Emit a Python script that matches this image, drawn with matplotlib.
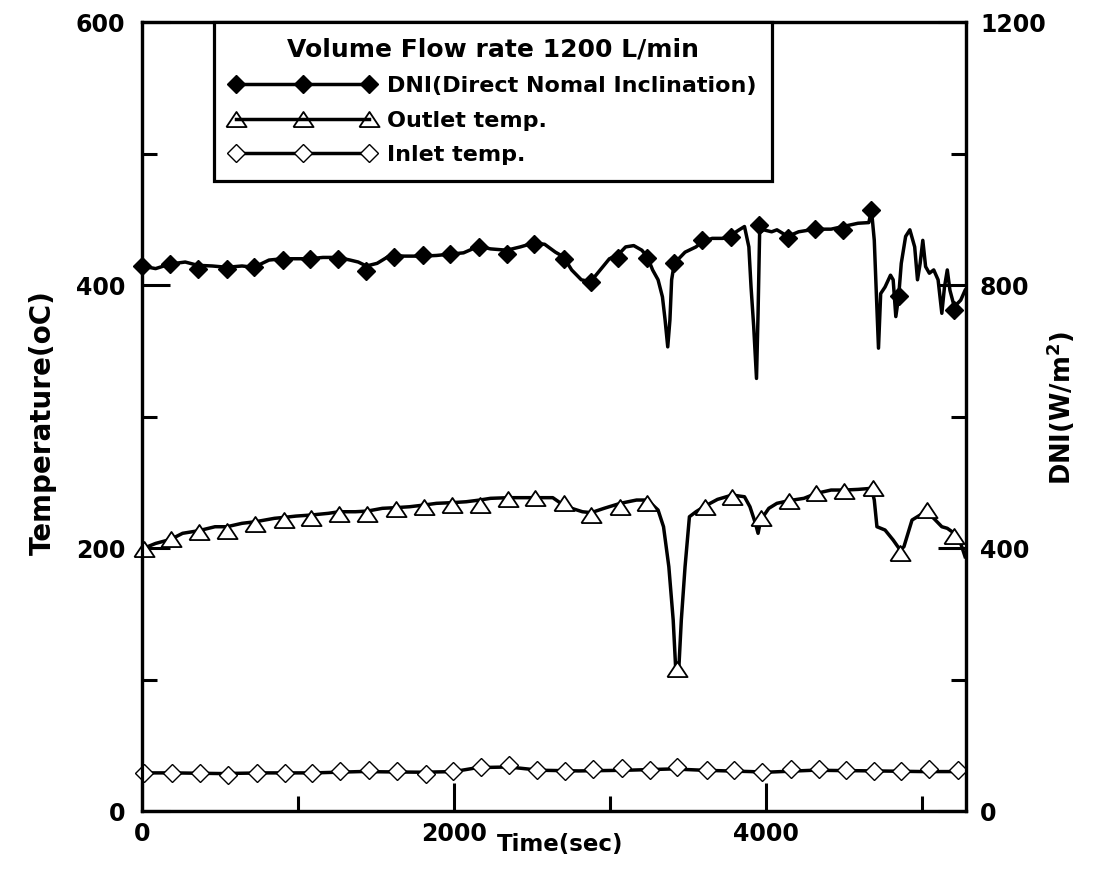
import matplotlib
matplotlib.use('Agg')
import matplotlib.pyplot as plt
from matplotlib.lines import Line2D
from matplotlib.ticker import MultipleLocator

plt.rcParams['font.family'] = ['DejaVu Sans']
plt.rcParams['font.weight'] = 'bold'
plt.rcParams['mathtext.default'] = 'bf'

# =========================
# DATA
# =========================
# DNI, right axis (W/m2) - trace
dni_t = [0, 87, 180, 277, 357, 450, 544, 641, 717, 814, 901, 987, 1074, 1160, 1257,
         1334, 1386, 1438, 1507, 1576, 1614, 1680, 1801, 1888, 1974, 2061, 2158, 2234,
         2338, 2425, 2511, 2581, 2650, 2702, 2754, 2816, 2875, 2927, 2996, 3048, 3100,
         3152, 3204, 3239, 3273, 3308, 3336, 3353, 3370, 3384, 3395, 3412, 3481, 3551,
         3592, 3655, 3724, 3776, 3828, 3862, 3890, 3904, 3921, 3939, 3949, 3959, 3984,
         4036, 4070, 4139, 4209, 4313, 4417, 4493, 4590, 4659, 4676, 4694, 4708, 4721,
         4735, 4763, 4798, 4815, 4832, 4850, 4867, 4895, 4922, 4953, 4971, 4988, 5005,
         5023, 5047, 5075, 5103, 5127, 5144, 5162, 5179, 5207, 5248, 5276]
dni_v = [829, 825, 832, 835, 830, 829, 827, 829, 827, 838, 840, 840, 840, 842, 842,
         838, 835, 829, 833, 843, 845, 844, 844, 845, 847, 849, 859, 855,
         853, 858, 864, 862, 850, 843, 823, 808, 805, 820, 840, 845, 858,
         860, 853, 843, 823, 808, 782, 747, 706, 747, 808, 833, 850, 858,
         866, 871, 871, 876, 884, 889, 858, 797, 737, 658, 757, 879, 884,
         881, 884, 874, 881, 885, 885, 889, 894, 895, 914, 868, 782, 704,
         787, 797, 815, 808, 752, 782, 833, 874, 884, 858, 808, 833, 868,
         828, 818, 823, 808, 757, 797, 823, 792, 767, 777, 792]
# DNI markers
dni_mt = [0, 180, 357, 544, 717, 901, 1074, 1257, 1438, 1614, 1801, 1974, 2158, 2338,
          2511, 2702, 2875, 3048, 3239, 3412, 3592, 3776, 3956, 4139, 4313, 4493, 4676,
          4850, 5207]
dni_mv = [829, 832, 824, 824, 827, 838, 839, 839, 822, 843, 846, 847, 858, 847,
          862, 839, 805, 841, 841, 833, 868, 873, 891, 871, 886, 883, 914,
          783, 762]

# Outlet temperature, left axis (oC) - trace
out_t = [10, 87, 184, 260, 364, 468, 544, 641, 727, 849, 911, 987, 1084, 1195, 1264,
         1368, 1444, 1541, 1625, 1715, 1808, 1888, 1985, 2078, 2165, 2234, 2349, 2442,
         2522, 2633, 2685, 2754, 2823, 2879, 2962, 3066, 3170, 3239, 3308, 3343, 3377,
         3405, 3422, 3440, 3457, 3481, 3509, 3551, 3609, 3689, 3783, 3862, 3897, 3932,
         3949, 3966, 4018, 4070, 4146, 4243, 4323, 4417, 4503, 4590, 4676, 4694, 4711,
         4763, 4815, 4860, 4884, 4936, 4988, 5033, 5075, 5127, 5162, 5207, 5248, 5276]
out_v = [199.8, 203.5, 206.6, 211.2, 213.2, 216.2, 216.2, 218.8, 220, 222.6, 223.3,
         224.3, 225.1, 226.4, 227.6, 227.6, 228.1, 230.2, 230.7, 231.4, 232.7, 234,
         234.5, 235.2, 236.5, 237.8, 238.3, 238.3, 238.3, 238.3, 234, 230.2, 227.6,
         226.9, 230.2, 234, 236.5, 236.5, 228.9, 216.2, 185.8, 145.2, 106, 106, 145.2,
         185.8, 223.8, 227.6, 231.9, 237, 240.3, 239, 231.4, 218.8, 211.2, 221.3, 230.2,
         234, 236, 237.8, 241.6, 244.1, 244.1, 244.6, 245.4, 236.5, 216.2, 213.7, 206.1,
         198.5, 201, 221.3, 225.1, 226.4, 222.6, 216.2, 215, 211.2, 203.5, 193.4]
out_mt = [10, 184, 364, 544, 727, 911, 1084, 1264, 1444, 1625, 1808, 1985, 2165, 2349,
          2522, 2705, 2879, 3066, 3239, 3429, 3609, 3783, 3966, 4146, 4323, 4503, 4683,
          4860, 5033, 5207]
out_mv = [199, 207, 212, 213, 218, 221, 223, 226, 226, 230, 231, 233, 233, 237,
          238, 234, 225, 231, 234, 108, 231, 239, 223, 236, 242, 243, 246,
          196, 229, 209]

# Inlet temperature, left axis (oC)
in_t = [0, 200, 500, 800, 1100, 1400, 1800, 2000, 2150, 2350, 2550, 2800, 3100, 3400,
        3600, 3900, 4000, 4300, 4700, 5000, 5280]
in_v = [29, 29, 28.5, 29, 29, 30, 29.5, 30, 33, 33.5, 31, 30.5, 31, 32,
        31, 30, 29.5, 31, 30.5, 30, 30]
in_mt = [10, 191, 371, 554, 738, 918, 1091, 1271, 1455, 1635, 1819, 1992, 2175, 2355,
         2529, 2712, 2892, 3076, 3256, 3429, 3620, 3793, 3973, 4157, 4337, 4514, 4694,
         4867, 5047, 5231]
in_mv = [29, 28.6, 28.6, 27.4, 28.6, 28.6, 28.6, 30.7, 31.2, 30.7, 28.1, 30.7, 33.7, 35,
         31.2, 30.7, 31.7, 32.4, 31.2, 33.7, 31.2, 31.2, 29.9, 31.7, 32, 31.2, 30.7,
         30.7, 31.7, 31.2]

# wide open triangle like the original's
tri = [(-1, -0.75), (1, -0.75), (0, 0.75), (-1, -0.75)]

# =========================
# PLOT
# =========================
fig = plt.figure(figsize=(10.95, 8.93), dpi=100)
ax = fig.add_axes([0.1297, 0.0918, 0.7525, 0.8835])
ax2 = ax.twinx()

lw = 2.5
ax.plot(out_t, out_v, color='k', lw=lw)
ax.plot(out_mt, out_mv, ls='none', marker=tri, ms=14.5, mfc='white', mec='k', mew=1.3,
        clip_on=False, zorder=3)
ax.plot(in_t, in_v, color='k', lw=lw)
ax.plot(in_mt, in_mv, ls='none', marker='D', ms=9.5, mfc='white', mec='k', mew=1.0,
        clip_on=False, zorder=3)

ax2.plot(dni_t, dni_v, color='k', lw=lw)
ax2.plot(dni_mt, dni_mv, ls='none', marker='D', ms=9.5, mfc='k', mec='k',
         clip_on=False, zorder=3)

ax.set_xlim(0, 5282)
ax.set_ylim(0, 600)
ax2.set_ylim(0, 1200)

ax.xaxis.set_major_locator(MultipleLocator(2000))
ax.xaxis.set_minor_locator(MultipleLocator(1000))
ax.yaxis.set_major_locator(MultipleLocator(200))
ax.yaxis.set_minor_locator(MultipleLocator(100))
ax2.yaxis.set_major_locator(MultipleLocator(400))
ax2.yaxis.set_minor_locator(MultipleLocator(200))

for a in (ax, ax2):
    for s in a.spines.values():
        s.set_linewidth(2.3)
    a.tick_params(which='major', direction='in', length=20, width=2.2, labelsize=17)
    a.tick_params(which='minor', direction='in', length=11, width=2.2)
ax.tick_params(axis='x', pad=8)
ax.tick_params(axis='y', pad=12, right=False, which='both')
ax2.tick_params(axis='y', pad=10)

ax.set_xlabel('Time(sec)', fontsize=16.5, fontweight='bold', va='center')
ax.xaxis.set_label_coords(0.507, -0.043)
ax.set_ylabel('Temperature(oC)', fontsize=20, fontweight='bold', va='center')
ax.yaxis.set_label_coords(-0.120, 0.493)
ax2.set_ylabel(r'DNI(W/m$^2$)', fontsize=18.5, fontweight='bold', va='center')
ax2.yaxis.set_label_coords(1.115, 0.511)

handles = [
    Line2D([], [], color='k', lw=lw, marker='D', ms=9.5, mfc='k', mec='k'),
    Line2D([], [], color='k', lw=lw, marker=tri, ms=14.5, mfc='none', mec='k', mew=1.3),
    Line2D([], [], color='k', lw=lw, marker='D', ms=9.5, mfc='white', mec='k', mew=1.0),
]
labels = ['DNI(Direct Nomal Inclination)', 'Outlet temp.', 'Inlet temp.']
leg = ax2.legend(handles, labels, loc='upper left', bbox_to_anchor=(0.087, 1.0),
                 borderaxespad=0, numpoints=3, handlelength=6.6, handletextpad=0.5,
                 labelspacing=0.65, borderpad=0.7, fancybox=False, framealpha=1,
                 edgecolor='k', prop={'size': 16, 'weight': 'bold'},
                 title='Volume Flow rate 1200 L/min',
                 title_fontproperties={'size': 18, 'weight': 'bold'})
leg.get_frame().set_linewidth(2.3)

fig.savefig('out.png', dpi=100)
